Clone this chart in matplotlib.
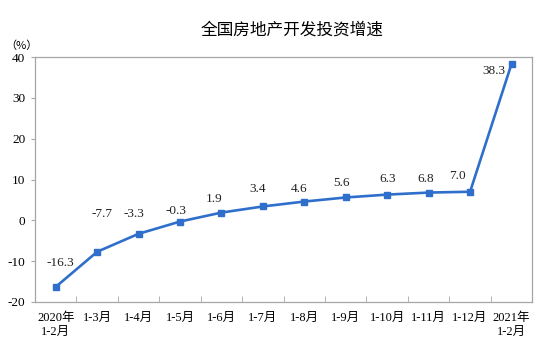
import matplotlib.pyplot as plt
import numpy as np

plt.rcParams['font.family'] = ['Liberation Serif', 'Noto Sans CJK SC']

months = ["2020年\n1-2月", "1-3月", "1-4月", "1-5月", "1-6月", "1-7月", "1-8月",
          "1-9月", "1-10月", "1-11月", "1-12月", "2021年\n1-2月"]
growth = [-16.3, -7.7, -3.3, -0.3, 1.9, 3.4, 4.6, 5.6, 6.3, 6.8, 7.0, 38.3]
yticks = [-20, -10, 0, 10, 20, 30, 40]

# label offsets from the point, in pixels (dx right, dy up)
label_off = [(5, 24), (5, 38), (-5, 20), (-4, 11), (-7, 14), (-5, 17), (-5, 13),
             (-4, 14), (0, 16), (-3, 14), (-13, 16), (-18, -7)]

fig = plt.figure(figsize=(5.47, 3.53), dpi=100)
ax = fig.add_axes([0.064, 0.1445, 0.909, 0.694])

line_color = "#2F6FCB"
x = np.arange(len(growth))
ax.plot(x, growth, color=line_color, lw=1.9, marker="s", ms=4, zorder=3)

for xi, v, (dx, dy) in zip(x, growth, label_off):
    ax.annotate(f"{v:.1f}", (xi, v), xytext=(dx * 0.72, dy * 0.72),
                textcoords="offset points", ha="center", va="center",
                fontsize=9.5, color="#222222")

ax.set_xlim(-0.5, len(growth) - 0.5)
ax.set_ylim(-20, 40)
ax.set_yticks(yticks)
ax.set_yticklabels([str(t) for t in yticks], fontsize=9.5)
ax.tick_params(axis="y", direction="out", length=3, color="#A6A6A6", pad=4)

ax.set_xticks(x)
ax.set_xticklabels(months, fontsize=9, linespacing=1.25)
ax.tick_params(axis="x", which="major", length=0, pad=7)
ax.set_xticks(np.arange(0.5, len(growth) - 1, 1.0), minor=True)
ax.tick_params(axis="x", which="minor", direction="in", length=4, color="#A6A6A6")

for s in ax.spines.values():
    s.set_color("#A6A6A6")
    s.set_linewidth(0.9)

fig.text(0.534, 0.915, "全国房地产开发投资增速", ha="center", va="center",
         fontsize=12, family="Noto Sans CJK SC")
fig.text(0.040, 0.872, "（%）", ha="center", va="center", fontsize=8,
         family="Noto Sans CJK SC")

fig.savefig("out.png", dpi=100)
